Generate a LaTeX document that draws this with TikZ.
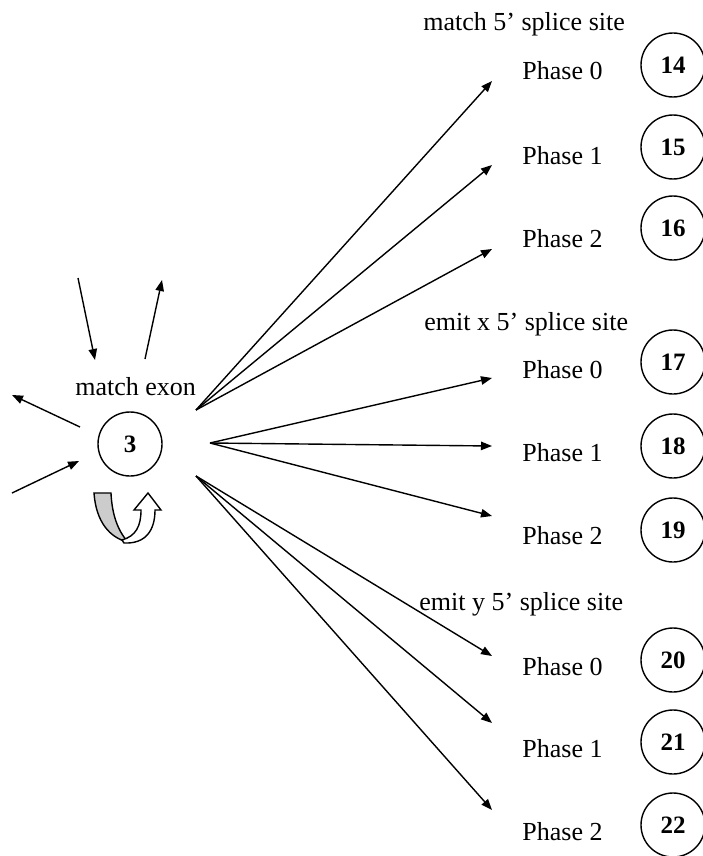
\documentclass[tikz,border=0pt]{standalone}
\usepackage{fontspec}
\setmainfont{Liberation Serif}
\usetikzlibrary{arrows.meta}

\begin{document}
\begin{tikzpicture}[x=0.5pt, y=-0.5pt,
    state/.style={draw, circle, line width=0.7pt, minimum size=32pt, inner sep=0pt,
                  font=\fontsize{12.5}{14}\selectfont\bfseries},
    lbl/.style={inner sep=0pt, anchor=base west, font=\fontsize{13}{15}\selectfont},
    arr/.style={line width=0.7pt, -{Triangle[length=5.5pt,width=4.2pt]}}]
    \useasboundingbox (0,0) rectangle (702,856);

    % match exon state
    \node [state] (s3) at (130,444) {3};
    \node [lbl] (exon) at (75,395) {match exon};
    \coordinate (inT) at (78,278);   \coordinate (inTend) at (95,360);
    \coordinate (outT) at (145,359); \coordinate (outTend) at (162,280);
    \coordinate (outL) at (80,427);  \coordinate (outLend) at (12,395);
    \coordinate (inL) at (12,493);   \coordinate (inLend) at (79,461);
    \draw [arr] (inT) -- (inTend);
    \draw [arr] (outT) -- (outTend);
    \draw [arr] (outL) -- (outLend);
    \draw [arr] (inL) -- (inLend);

    % self loop
    \filldraw [fill=gray!40, line width=0.7pt] (94,493) -- (111,493)
        .. controls (112,515) and (118,531) .. (128,542)
        .. controls (110,538) and (96,522) .. (94,493) -- cycle;
    \filldraw [fill=white, line width=0.7pt] (124,543)
        .. controls (146,544) and (155,530) .. (155,510) -- (161,510) -- (148,493)
        -- (134,510) -- (141,510) .. controls (141,526) and (136,536) .. (122,540) -- cycle;

    % match 5' splice site
    \node [lbl] (m5) at (423,31) {match 5’ splice site};
    \node [lbl] (mp0) at (522,80) {Phase 0};
    \node [lbl] (mp1) at (522,164) {Phase 1};
    \node [lbl] (mp2) at (522,247) {Phase 2};
    \node [state] (s14) at (673,65) {14};
    \node [state] (s15) at (673,147) {15};
    \node [state] (s16) at (673,228) {16};

    % emit x 5' splice site
    \node [lbl] (x5) at (424,330) {emit x 5’ splice site};
    \node [lbl] (xp0) at (522,378) {Phase 0};
    \node [lbl] (xp1) at (522,461) {Phase 1};
    \node [lbl] (xp2) at (522,544) {Phase 2};
    \node [state] (s17) at (673,362) {17};
    \node [state] (s18) at (673,446) {18};
    \node [state] (s19) at (673,530) {19};

    % emit y 5' splice site
    \node [lbl] (y5) at (419,610) {emit y 5’ splice site};
    \node [lbl] (yp0) at (522,675) {Phase 0};
    \node [lbl] (yp1) at (522,757) {Phase 1};
    \node [lbl] (yp2) at (522,840) {Phase 2};
    \node [state] (s20) at (673,660) {20};
    \node [state] (s21) at (673,742) {21};
    \node [state] (s22) at (673,825) {22};

    % fan of transitions
    \coordinate (fm) at (196,410);
    \coordinate (fx) at (210,443);
    \coordinate (fy) at (196,476);
    \coordinate (tm0) at (492,81);  \coordinate (tm1) at (492,165); \coordinate (tm2) at (492,249);
    \coordinate (tx0) at (492,378); \coordinate (tx1) at (492,446); \coordinate (tx2) at (492,516);
    \coordinate (ty0) at (492,656); \coordinate (ty1) at (492,723); \coordinate (ty2) at (492,810);
    \draw [arr] (fm) -- (tm0);
    \draw [arr] (fm) -- (tm1);
    \draw [arr] (fm) -- (tm2);
    \draw [arr] (fx) -- (tx0);
    \draw [arr] (fx) -- (tx1);
    \draw [arr] (fx) -- (tx2);
    \draw [arr] (fy) -- (ty0);
    \draw [arr] (fy) -- (ty1);
    \draw [arr] (fy) -- (ty2);
\end{tikzpicture}
\end{document}
